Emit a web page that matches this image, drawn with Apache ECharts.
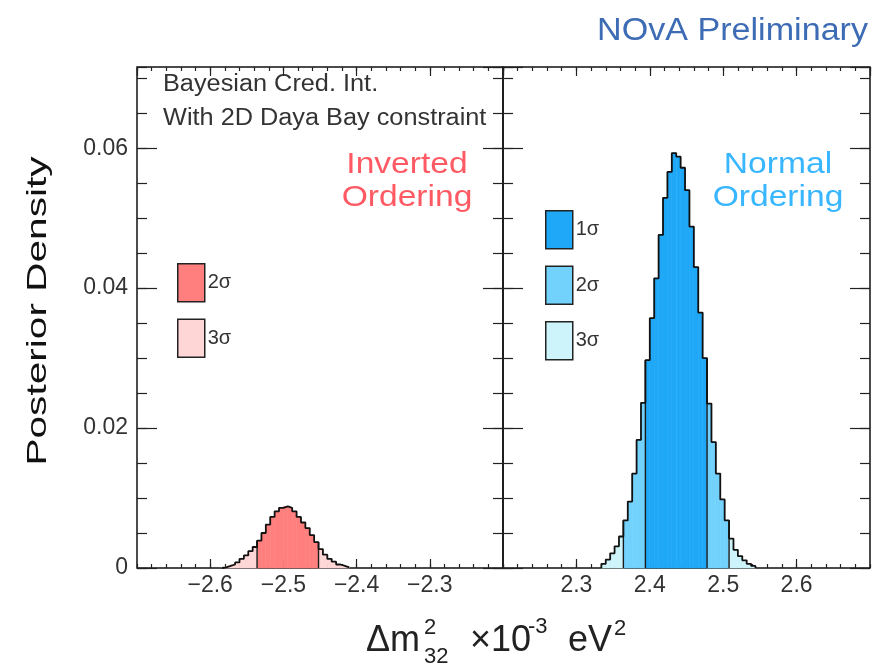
<!DOCTYPE html>
<html>
<head>
<meta charset="utf-8">
<title>NOvA posterior density</title>
<script src="https://cdn.jsdelivr.net/npm/echarts@6/dist/echarts.min.js"></script>
</head>
<body style="margin:0; background:#fff">
<div id="chart" style="width:877px; height:668px"></div>
<script>
// histogram bins (width in 10^-3 eV^2)
var binWidth = 0.006;

// inverted ordering: first bin edge + density per bin
var ioStart = -2.584;
var ioDensity = [0.0001, 0.0003, 0.0005, 0.0008, 0.0013, 0.0018, 0.0024, 0.0030, 0.0039, 0.0050,
                 0.0062, 0.0073, 0.0081, 0.0086, 0.0088, 0.0086, 0.0081, 0.0073, 0.0065, 0.0057,
                 0.0047, 0.0037, 0.0027, 0.0019, 0.0013, 0.0009, 0.0005, 0.0003, 0.0001];
var ioSigma2 = [-2.536, -2.452];

// normal ordering
var noStart = 2.334;
var noDensity = [0.0006, 0.0012, 0.0021, 0.0031, 0.0045, 0.0068, 0.0095, 0.0135, 0.0183, 0.0236,
                 0.0297, 0.0357, 0.0414, 0.0476, 0.0529, 0.0566, 0.0593, 0.0588, 0.0572, 0.0540,
                 0.0488, 0.0430, 0.0365, 0.0300, 0.0235, 0.0180, 0.0135, 0.0098, 0.0068, 0.0042,
                 0.0026, 0.0017, 0.0011, 0.0006, 0.0003];
var noSigma1 = [2.394, 2.478];
var noSigma2 = [2.364, 2.508];

var yMax = 0.0716;
var ioRange = [-2.7, -2.2];
var noRange = [2.2, 2.7];

var colors = {
    'IO 2σ': '#ff7f7f', 'IO 3σ': '#ffd6d6',
    'NO 1σ': '#1fa8f7', 'NO 2σ': '#72d2fc', 'NO 3σ': '#cdf4fa'
};

var FONT = '"Liberation Sans", Arial, sans-serif';

function inside(x, band) { return band && x > band[0] && x < band[1]; }

// split the bins into band series
function bandData(start, dens, b1, b2, which) {
    var out = [];
    for (var i = 0; i < dens.length; i++) {
        var x0 = start + i * binWidth, x1 = x0 + binWidth, c = (x0 + x1) / 2;
        var lvl = inside(c, b1) ? 1 : inside(c, b2) ? 2 : 3;
        if (lvl === which) out.push([x0, x1, dens[i]]);
    }
    return out;
}

function outline(start, dens) {
    var pts = [[start, 0]];
    for (var i = 0; i < dens.length; i++) pts.push([start + i * binWidth, dens[i]]);
    pts.push([start + dens.length * binWidth, 0]);
    return pts;
}

function edgeLines(start, dens, edges) {
    return edges.map(function (x) {
        var i = Math.round((x - start) / binWidth);
        var h = Math.max(dens[i - 1] || 0, dens[i] || 0);
        return [x, h];
    });
}

function renderBin(params, api) {
    var p0 = api.coord([api.value(0), api.value(2)]);
    var p1 = api.coord([api.value(1), 0]);
    var c = api.visual('color');
    return {
        type: 'rect',
        shape: { x: p0[0], y: p0[1], width: p1[0] - p0[0], height: p1[1] - p0[1] },
        style: { fill: c, stroke: c, lineWidth: 0.6 }
    };
}

function renderEdge(params, api) {
    var a = api.coord([api.value(0), 0]);
    var b = api.coord([api.value(0), api.value(1)]);
    return {
        type: 'line',
        shape: { x1: a[0], y1: a[1], x2: b[0], y2: b[1] },
        style: { stroke: '#1a1a1a', lineWidth: 1.4 }
    };
}

var grids = [
    { left: 137, top: 67, width: 366, height: 501, show: true, borderColor: '#111', borderWidth: 1.5 },
    { left: 503, top: 67, width: 367, height: 501, show: true, borderColor: '#111', borderWidth: 1.5 }
];

function xAxis(g, pos, interval, len, labels) {
    var r = g === 0 ? ioRange : noRange;
    return {
        type: 'value', gridIndex: g, position: pos, min: r[0], max: r[1], interval: interval,
        axisLine: { show: false, onZero: false }, splitLine: { show: false },
        axisTick: { show: true, inside: true, length: len, lineStyle: { color: '#222', width: 1.2 } },
        axisLabel: {
            show: labels, margin: 6, fontSize: 23, color: '#333', fontFamily: FONT,
            showMinLabel: false, showMaxLabel: false,
            formatter: function (v) { return String(+v.toFixed(1)).replace('-', '\u2212'); }
        }
    };
}

function yAxis(g, pos, interval, len, labels) {
    return {
        type: 'value', gridIndex: g, position: pos, min: 0, max: yMax, interval: interval,
        axisLine: { show: false, onZero: false }, splitLine: { show: false },
        axisTick: { show: true, inside: true, length: len, lineStyle: { color: '#222', width: 1.2 } },
        axisLabel: {
            show: labels, margin: 9, fontSize: 23, color: '#333', fontFamily: FONT,
            showMaxLabel: false
        }
    };
}

var xAxes = [], yAxes = [];
[0, 1].forEach(function (g) {
    xAxes[g] = xAxis(g, 'bottom', 0.1, 9, true);
    xAxes[2 + g] = xAxis(g, 'bottom', 0.02, 4, false);
    xAxes[4 + g] = xAxis(g, 'top', 0.1, 9, false);
    xAxes[6 + g] = xAxis(g, 'top', 0.02, 4, false);
    yAxes[g] = yAxis(g, 'left', 0.02, 20, g === 0);
    yAxes[2 + g] = yAxis(g, 'left', 0.005, 10, false);
    yAxes[4 + g] = yAxis(g, 'right', 0.02, 20, false);
    yAxes[6 + g] = yAxis(g, 'right', 0.005, 10, false);
});

function bandSeries(name, g, data) {
    return {
        name: name, type: 'custom', xAxisIndex: g, yAxisIndex: g,
        renderItem: renderBin, encode: { x: [0, 1], y: 2 },
        itemStyle: { color: colors[name] }, data: data, silent: true, z: 2
    };
}

var series = [
    bandSeries('IO 2σ', 0, bandData(ioStart, ioDensity, null, ioSigma2, 2)),
    bandSeries('IO 3σ', 0, bandData(ioStart, ioDensity, null, ioSigma2, 3)),
    bandSeries('NO 1σ', 1, bandData(noStart, noDensity, noSigma1, noSigma2, 1)),
    bandSeries('NO 2σ', 1, bandData(noStart, noDensity, noSigma1, noSigma2, 2)),
    bandSeries('NO 3σ', 1, bandData(noStart, noDensity, noSigma1, noSigma2, 3)),
    {
        type: 'custom', xAxisIndex: 0, yAxisIndex: 0, renderItem: renderEdge, z: 3, silent: true,
        encode: { x: 0, y: 1 }, data: edgeLines(ioStart, ioDensity, ioSigma2)
    },
    {
        type: 'custom', xAxisIndex: 1, yAxisIndex: 1, renderItem: renderEdge, z: 3, silent: true,
        encode: { x: 0, y: 1 }, data: edgeLines(noStart, noDensity, noSigma1.concat(noSigma2))
    },
    {
        type: 'line', xAxisIndex: 0, yAxisIndex: 0, step: 'end', showSymbol: false, silent: true, z: 4,
        lineStyle: { color: '#111', width: 1.8 }, data: outline(ioStart, ioDensity)
    },
    {
        type: 'line', xAxisIndex: 1, yAxisIndex: 1, step: 'end', showSymbol: false, silent: true, z: 4,
        lineStyle: { color: '#111', width: 1.8 }, data: outline(noStart, noDensity)
    }
];

function legend(left, top, names) {
    return {
        left: left, top: top, orient: 'vertical', selectedMode: false,
        icon: 'rect', itemWidth: 27, itemHeight: 38, itemGap: 16,
        itemStyle: { borderColor: '#222', borderWidth: 1.5 },
        textStyle: { fontSize: 20, color: '#333', fontFamily: FONT, padding: [2, 0, 0, -2] },
        formatter: function (n) { return n.slice(3); },
        data: names
    };
}

function txt(props, style) {
    style.fontFamily = FONT;
    style.textAlign = style.align;
    style.textVerticalAlign = style.verticalAlign;
    props.type = 'text';
    props.style = style;
    return props;
}

var graphics = [
    txt({ x: 868, y: 31, scaleX: 1.1 }, { text: 'NOvA Preliminary', fontSize: 31, fill: '#3d6cb5', align: 'right', verticalAlign: 'middle' }),
    txt({ x: 163, y: 85, scaleX: 1.1 }, { text: 'Bayesian Cred. Int.', fontSize: 23, fill: '#333', align: 'left', verticalAlign: 'middle' }),
    txt({ x: 163, y: 119, scaleX: 1.1 }, { text: 'With 2D Daya Bay constraint', fontSize: 23, fill: '#333', align: 'left', verticalAlign: 'middle' }),
    txt({ x: 407, y: 181, scaleX: 1.12 }, { text: 'Inverted\nOrdering', fontSize: 30, lineHeight: 33, fill: '#ff5a64', align: 'center', verticalAlign: 'middle' }),
    txt({ x: 778, y: 181, scaleX: 1.12 }, { text: 'Normal\nOrdering', fontSize: 30, lineHeight: 33, fill: '#38b6ff', align: 'center', verticalAlign: 'middle' }),
    txt({ x: 38, y: 311, rotation: Math.PI / 2, scaleX: 1.45 }, { text: 'Posterior Density', fontSize: 28, fill: '#111', align: 'center', verticalAlign: 'middle' }),
    // x axis title pieces
    txt({ x: 366, y: 641 }, { text: 'Δm', fontSize: 36, fill: '#222', align: 'left', verticalAlign: 'middle' }),
    txt({ x: 424, y: 628 }, { text: '2', fontSize: 22, fill: '#222', align: 'left', verticalAlign: 'middle' }),
    txt({ x: 424, y: 657 }, { text: '32', fontSize: 22, fill: '#222', align: 'left', verticalAlign: 'middle' }),
    txt({ x: 470, y: 641 }, { text: '×10', fontSize: 36, fill: '#222', align: 'left', verticalAlign: 'middle' }),
    txt({ x: 528, y: 627 }, { text: '-3', fontSize: 22, fill: '#222', align: 'left', verticalAlign: 'middle' }),
    txt({ x: 568, y: 641 }, { text: 'eV', fontSize: 36, fill: '#222', align: 'left', verticalAlign: 'middle' }),
    txt({ x: 614, y: 629 }, { text: '2', fontSize: 22, fill: '#222', align: 'left', verticalAlign: 'middle' })
];

var chart = echarts.init(document.getElementById('chart'));
chart.setOption({
    animation: false,
    backgroundColor: '#fff',
    grid: grids,
    xAxis: xAxes,
    yAxis: yAxes,
    legend: [
        legend(172, 258, ['IO 2σ', 'IO 3σ']),
        legend(540, 205, ['NO 1σ', 'NO 2σ', 'NO 3σ'])
    ],
    graphic: graphics,
    series: series
});
</script>
</body>
</html>
